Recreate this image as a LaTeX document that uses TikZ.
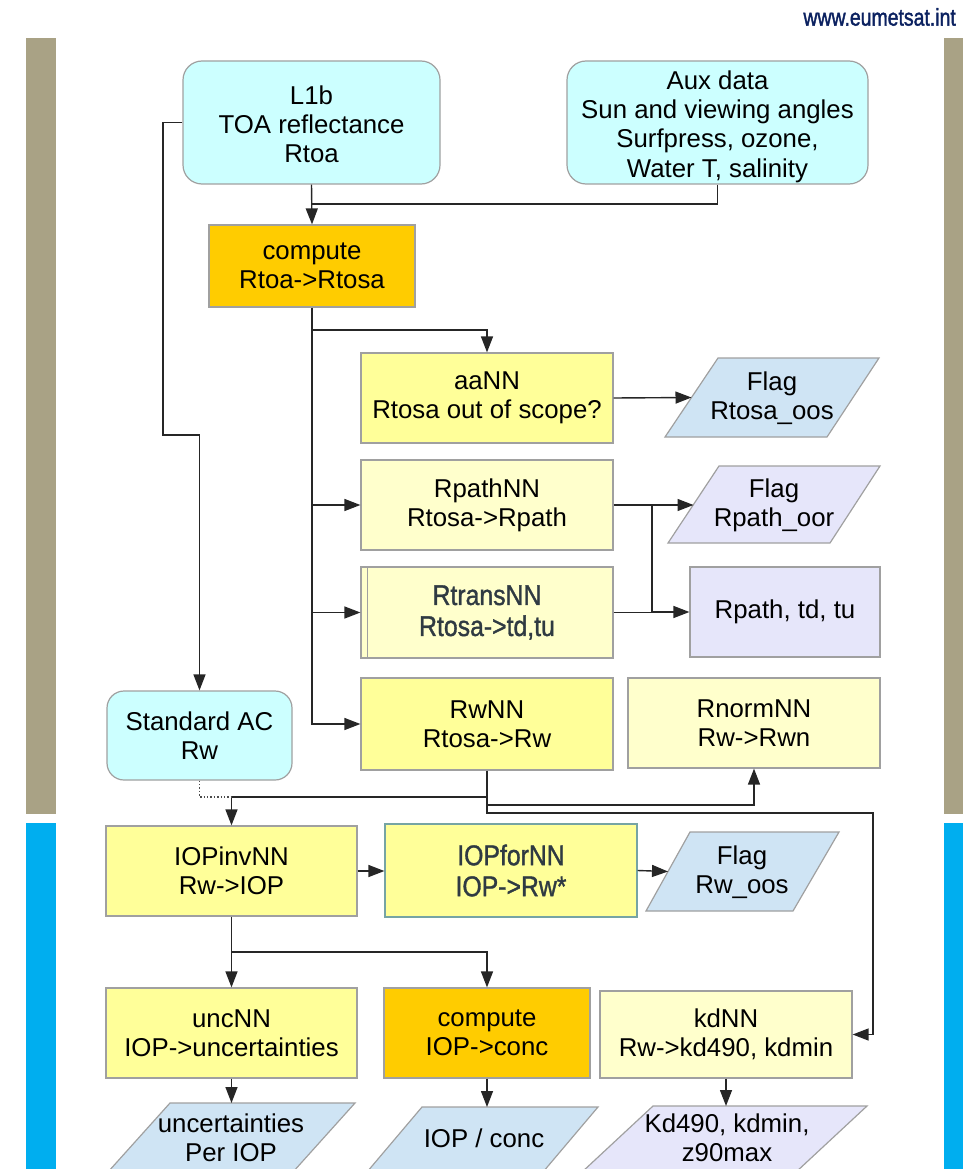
\documentclass[tikz,border=0pt]{standalone}
\usepackage{fontspec}
\usepackage{graphicx}
\setmainfont{Liberation Sans}
\newfontfamily\altfam[FakeBold=1.3]{Liberation Sans}
\newfontfamily\webfam[FakeBold=1.8]{Liberation Sans}
\usetikzlibrary{arrows.meta,calc}

\definecolor{tanbar}{HTML}{A9A285}
\definecolor{bluebar}{HTML}{00AEEF}
\definecolor{cyanbox}{HTML}{CCFFFF}
\definecolor{yelbox}{HTML}{FFFF99}
\definecolor{paleyel}{HTML}{FFFFCC}
\definecolor{orangebox}{HTML}{FFCC00}
\definecolor{flagblue}{HTML}{CFE4F4}
\definecolor{lavender}{HTML}{E6E6FA}
\definecolor{edgegray}{HTML}{A0A0A0}
\definecolor{webnavy}{HTML}{0B2160}
\definecolor{slatetext}{HTML}{2F3A42}

\newcommand\narrowtxt[1]{\scalebox{0.87}[1]{#1}}

\tikzset{
  box/.style={draw=edgegray, line width=1.2pt, align=center, inner sep=0pt,
    font=\fontsize{25.8}{29.3}\selectfont},
  roundbox/.style={box, rounded corners=19pt, fill=cyanbox},
  altfont/.style={font=\altfam\fontsize{28.5}{31}\selectfont, text=slatetext},
  flagshape/.style={draw=edgegray, line width=1.2pt},
  flagtext/.style={align=center, inner sep=0pt, font=\fontsize{25.8}{29.3}\selectfont},
  conn/.style={line width=1.4pt, draw=black!85},
  arr/.style={conn, -{Triangle[length=16pt,width=12pt]}},
}

\begin{document}
\begin{tikzpicture}[x=1pt,y=-1pt]
\useasboundingbox (0,0) rectangle (963,1169);
\clip (0,0) rectangle (963,1169);

% side bars
\fill[tanbar] (26,38) rectangle (56,814);
\fill[bluebar] (26,823) rectangle (56,1169);
\fill[tanbar] (944,38) rectangle (963,814);
\fill[bluebar] (944,823) rectangle (963,1169);

% web address
\node[anchor=east, inner sep=0pt, text=webnavy, font=\webfam\fontsize{24}{26}\selectfont] (web) at (956,17) {\scalebox{0.81}[1]{www.eumetsat.int}};

% inputs
\node[roundbox, minimum width=257, minimum height=123] (l1b) at (311.5,122.5) {\rule{0pt}{22pt}L1b\\TOA reflectance\\Rtoa};
\node[roundbox, minimum width=301, minimum height=123] (aux) at (717.5,122.5) {\rule{0pt}{27pt}Aux data\\Sun and viewing angles\\Surfpress, ozone,\\Water T, salinity};

% processing chain
\node[box, fill=orangebox, minimum width=206, minimum height=82] (comp1) at (312,266) {compute\\Rtoa->Rtosa};
\node[box, fill=yelbox, minimum width=252, minimum height=90] (aann) at (487,398) {aaNN\\Rtosa out of scope?};
\node[box, fill=paleyel, minimum width=252, minimum height=90] (rpath) at (487,505) {RpathNN\\Rtosa->Rpath};
\node[box, fill=paleyel, minimum width=252, minimum height=91, altfont] (rtrans) at (487,612.5) {\narrowtxt{RtransNN}\\\narrowtxt{Rtosa->td,tu}};
\draw[draw=edgegray, line width=1pt] (367,568) -- (367,657);
\node[box, fill=lavender, minimum width=190, minimum height=90] (rpt) at (785,612) {Rpath, td, tu};
\node[box, fill=yelbox, minimum width=252, minimum height=92] (rwnn) at (487,724) {RwNN\\Rtosa->Rw};
\node[box, fill=paleyel, minimum width=252, minimum height=90] (rnorm) at (754,723) {RnormNN\\Rw->Rwn};
\node[roundbox, rounded corners=17pt, minimum width=185, minimum height=89] (stdac) at (199.5,735.5) {Standard AC\\Rw};

\node[box, fill=yelbox, minimum width=251, minimum height=90] (iopinv) at (231.5,871) {IOPinvNN\\Rw->IOP};
\node[box, fill=yelbox, draw=edgegray!70!cyan!60!gray, minimum width=252, minimum height=93, altfont] (iopfor) at (511,870.5) {\narrowtxt{IOPforNN}\\\narrowtxt{IOP->Rw*}};

\node[box, fill=yelbox, minimum width=251, minimum height=90] (unc) at (231.5,1033) {uncNN\\IOP->uncertainties};
\node[box, fill=orangebox, minimum width=206, minimum height=90] (comp2) at (487,1033) {compute\\IOP->conc};
\node[box, fill=paleyel, minimum width=252, minimum height=87] (kdnn) at (726,1034.5) {kdNN\\Rw->kd490, kdmin};

% output flags and products (parallelograms)
\draw[flagshape, fill=flagblue] (718,358) -- (879,358) -- (827,437) -- (665,437) -- cycle;
\coordinate (f1in) at (691.5,397.5);
\node[flagtext] (flag1) at (772,398) {Flag\\Rtosa\_oos};

\draw[flagshape, fill=lavender] (719,466) -- (880,466) -- (830,543) -- (668,543) -- cycle;
\coordinate (f2in) at (693.5,505);
\node[flagtext] (flag2) at (774,505) {Flag\\Rpath\_oor};

\draw[flagshape, fill=flagblue] (690,832) -- (839,832) -- (793,911) -- (646,911) -- cycle;
\coordinate (f3in) at (668,871.5);
\node[flagtext] (flag3) at (742,872) {Flag\\Rw\_oos};

\draw[flagshape, fill=flagblue] (170,1103) -- (355,1103) -- (284,1182) -- (99,1182) -- cycle;
\coordinate (f4top) at (231.5,1103);
\node[flagtext] (outunc) at (231,1138) {uncertainties\\Per IOP};

\draw[flagshape, fill=flagblue] (422,1107) -- (598,1107) -- (532,1185) -- (356,1185) -- cycle;
\coordinate (f5top) at (487,1107);
\node[flagtext] (outconc) at (484,1138) {IOP / conc};

\draw[flagshape, fill=lavender] (653,1106) -- (867,1106) -- (781,1186) -- (567,1186) -- cycle;
\coordinate (f6top) at (726,1106);
\node[flagtext] (outkd) at (727,1138) {Kd490, kdmin,\\z90max};

% connectors
\draw[arr] (l1b.west) -| (163,435) -| (stdac.north);
\draw[arr] (l1b.south) -- (comp1.north);
\coordinate (jaux) at (l1b.south |- 0,204);
\draw[conn] (aux.south) |- (jaux);

\draw[arr] (comp1.south) |- (rwnn.west);
\draw[arr] (comp1.south |- 0,330) -| (aann.north);
\draw[arr] (comp1.south |- rpath.west) -- (rpath.west);
\draw[arr] (comp1.south |- rtrans.west) -- (rtrans.west);

\draw[arr] (aann.east) -- (f1in);
\draw[arr] (rpath.east) -- (f2in);
\coordinate (jr) at (652,505);
\draw[arr] (jr) |- (rpt.west);
\draw[conn] (rtrans.east) -- (rtrans.east -| jr);

\coordinate (jw) at (487,797);
\draw[arr] (rwnn.south) -- (jw) -| (iopinv.north);
\draw[conn, dotted, draw=black!70] (stdac.south) |- (iopinv.north |- jw);
\draw[arr] (jw) |- (873,813) |- (kdnn.east);
\draw[arr] (rwnn.south |- 0,805) -| (rnorm.south);

\draw[arr] (iopinv.east) -- (iopfor.west |- iopinv.east);
\draw[arr] (iopfor.east) -- (f3in);
\draw[arr] (iopinv.south) -- (unc.north);
\draw[arr] (iopinv.south |- 0,952) -| (comp2.north);

\draw[arr] (unc.south) -- (f4top);
\draw[arr] (comp2.south) -- (f5top);
\draw[arr] (kdnn.south) -- (f6top);
\end{tikzpicture}
\end{document}
